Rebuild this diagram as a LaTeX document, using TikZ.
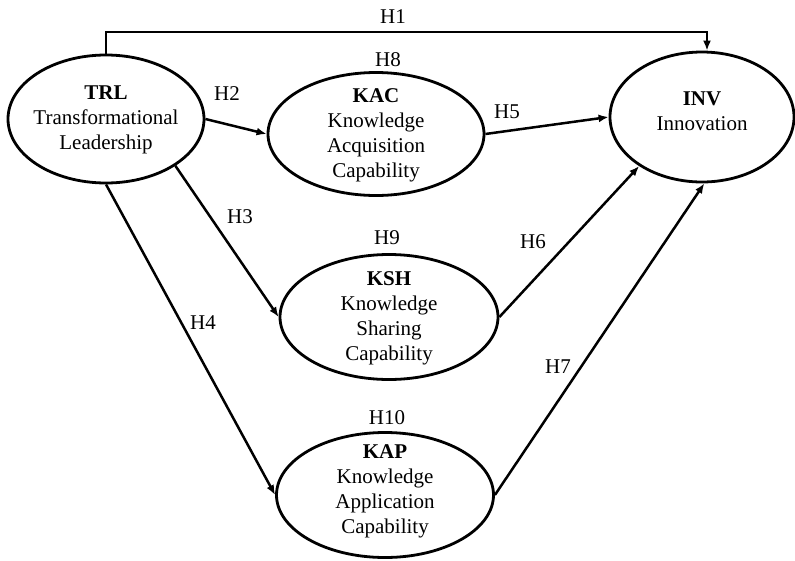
\documentclass[tikz,border=0pt]{standalone}
\usepackage{fontspec}
\setmainfont{Liberation Serif}
\usetikzlibrary{shapes.geometric,arrows.meta}
\begin{document}
\begin{tikzpicture}[x=1pt,y=-1pt,
  every node/.style={font=\fontsize{21}{25}\selectfont},
  construct/.style={ellipse,draw,line width=2.8pt,inner sep=0pt},
  ctext/.style={inner sep=0pt,align=center},
  lbl/.style={inner sep=0pt},
  arr/.style={line width=2.5pt,-{Latex[length=10pt,width=8pt]}}]
\useasboundingbox (0,0) rectangle (795,560);
% constructs
\node[construct,minimum width=196pt,minimum height=128pt] (trl) at (106,119) {};
\node[ctext] (trltxt) at (106,120) {\textbf{TRL}\\Transformational\\Leadership};
\node[construct,minimum width=216pt,minimum height=123pt] (kac) at (376,134) {};
\node[ctext] (kactxt) at (376,135) {\textbf{KAC}\\Knowledge\\Acquisition\\Capability};
\node[construct,minimum width=218pt,minimum height=125pt] (ksh) at (389,317) {};
\node[ctext] (kshtxt) at (389,318) {\textbf{KSH}\\Knowledge\\Sharing\\Capability};
\node[construct,minimum width=217pt,minimum height=125pt] (kap) at (385,495) {};
\node[ctext] (kaptxt) at (385,491) {\textbf{KAP}\\Knowledge\\Application\\Capability};
\node[construct,minimum width=184pt,minimum height=130pt] (inv) at (702,117) {};
\node[ctext] (invtxt) at (702,111) {\textbf{INV}\\Innovation};
% connectors
\coordinate (h1r) at (707,32);
\draw[arr] (trl.north) |- (h1r) -- (h1r |- inv.north);
\draw[arr] (trl.east) -- (kac.west);
\draw[arr] (trl.-34) -- (ksh.west);
\draw[arr] (trl.south) -- (kap.west);
\draw[arr] (kac.east) -- (inv.west);
\draw[arr] (ksh.east) -- (inv.218);
\draw[arr] (kap.east) -- (inv.-88);
% labels
\node[lbl] (h1) at (393,17) {H1};
\node[lbl] (h2) at (227,94) {H2};
\node[lbl] (h3) at (240,217) {H3};
\node[lbl] (h4) at (203,323) {H4};
\node[lbl] (h5) at (507,112) {H5};
\node[lbl] (h6) at (533,242) {H6};
\node[lbl] (h7) at (558,367) {H7};
\node[lbl] (h8) at (388,60) {H8};
\node[lbl] (h9) at (387,238) {H9};
\node[lbl] (h10) at (387,418) {H10};
\end{tikzpicture}
\end{document}
